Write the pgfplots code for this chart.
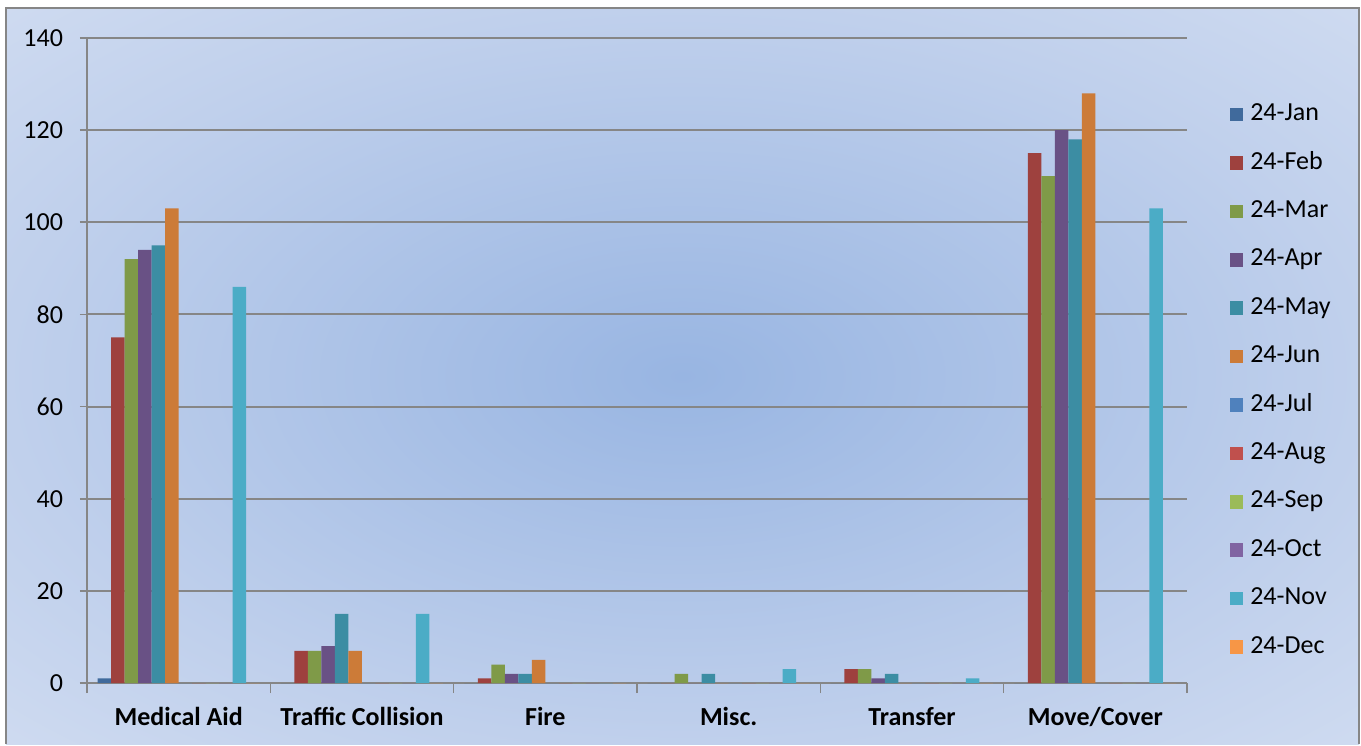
\documentclass[border=0pt]{standalone}
\usepackage{pgfplots}
\pgfplotsset{compat=1.18}
\usepackage{pgfplotstable}
\usepackage{fontspec}
\setmainfont{Carlito}
\definecolor{cjan}{HTML}{406A9C}
\definecolor{cfeb}{HTML}{9E413E}
\definecolor{cmar}{HTML}{7F9A48}
\definecolor{capr}{HTML}{695185}
\definecolor{cmay}{HTML}{3C8DA3}
\definecolor{cjun}{HTML}{CC7B38}
\definecolor{cjul}{HTML}{4F81BD}
\definecolor{caug}{HTML}{C0504D}
\definecolor{csep}{HTML}{9BBB59}
\definecolor{coct}{HTML}{8064A2}
\definecolor{cnov}{HTML}{4BACC6}
\definecolor{cdec}{HTML}{F79646}
\definecolor{bgin}{RGB}{152,181,226}
\definecolor{bgmid}{RGB}{192,208,236}
\definecolor{bgmid2}{RGB}{219,228,244}
\definecolor{bgout}{RGB}{228,234,247}
\definecolor{axgray}{HTML}{868686}
\pgfdeclareradialshading{bgshade}{\pgfpoint{0bp}{0bp}}{color(0bp)=(bgin); color(25bp)=(bgmid); color(45bp)=(bgmid2); color(72bp)=(bgout)}
\pgfplotstableread{
x jan feb mar apr may jun jul aug sep oct nov dec
0 1 75 92 94 95 103 0 0 0 0 86 0
1 0 7 7 8 15 7 0 0 0 0 15 0
2 0 1 4 2 2 5 0 0 0 0 0 0
3 0 0 2 0 2 0 0 0 0 0 3 0
4 0 3 3 1 2 0 0 0 0 0 1 0
5 0 115 110 120 118 128 0 0 0 0 103 0
}\data
\pgfplotsset{lg/.style={legend image code/.code={\fill[##1] (0pt,-3.4pt) rectangle (6.8pt,3.4pt);}}}
\begin{document}
\begin{tikzpicture}
\fill[white] (0pt,0pt) rectangle (680.5pt,372pt);
\shade[shading=bgshade] (3pt,0pt) rectangle (679.5pt,368pt);
\draw[axgray, line width=1pt] (3pt,0pt) -- (3pt,368pt) -- (679.5pt,368pt) -- (679.5pt,0pt);
\begin{axis}[
  at={(43.5pt,30.5pt)}, anchor=south west,
  scale only axis, width=550pt, height=322.5pt,
  ybar=0pt, bar width=6.75pt,
  xmin=-0.5, xmax=5.5, ymin=0, ymax=140,
  xtick={0,...,5},
  xticklabels={Medical Aid,Traffic Collision,Fire,Misc.,Transfer,Move/Cover},
  minor xtick={-0.5,0.5,...,5.5},
  ytick={0,20,...,140},
  axis x line*=bottom, axis y line*=left,
  axis line style={axgray, line width=1pt},
  ymajorgrids, grid style={axgray, line width=1pt},
  tick align=outside,
  major tick length=3.5pt, minor tick length=5pt,
  major x tick style={draw=none},
  tick style={axgray, line width=0.8pt},
  minor tick style={axgray, line width=0.8pt},
  xticklabel style={font=\fontsize{13}{15}\selectfont\bfseries, yshift=-5pt},
  yticklabel style={font=\fontsize{13}{15}\selectfont, xshift=-5pt},
  /pgf/number format/assume math mode=true,
  legend style={draw=none, fill=none, at={(1.033,0.905)}, anchor=north west,
    legend cell align=left, row sep=13.2pt, column sep=3.5pt,
    font=\fontsize{13}{15}\selectfont,
    nodes={inner sep=0pt, text height=8.5pt, text depth=2.5pt}},
  clip=false,
]
\addplot[fill=cjan, draw=none, lg] table[x=x,y=jan]{\data};
\addplot[fill=cfeb, draw=none, lg] table[x=x,y=feb]{\data};
\addplot[fill=cmar, draw=none, lg] table[x=x,y=mar]{\data};
\addplot[fill=capr, draw=none, lg] table[x=x,y=apr]{\data};
\addplot[fill=cmay, draw=none, lg] table[x=x,y=may]{\data};
\addplot[fill=cjun, draw=none, lg] table[x=x,y=jun]{\data};
\addplot[fill=cjul, draw=none, lg] table[x=x,y=jul]{\data};
\addplot[fill=caug, draw=none, lg] table[x=x,y=aug]{\data};
\addplot[fill=csep, draw=none, lg] table[x=x,y=sep]{\data};
\addplot[fill=coct, draw=none, lg] table[x=x,y=oct]{\data};
\addplot[fill=cnov, draw=none, lg] table[x=x,y=nov]{\data};
\addplot[fill=cdec, draw=none, lg] table[x=x,y=dec]{\data};
\legend{24-Jan,24-Feb,24-Mar,24-Apr,24-May,24-Jun,24-Jul,24-Aug,24-Sep,24-Oct,24-Nov,24-Dec}
\end{axis}
\end{tikzpicture}
\end{document}
